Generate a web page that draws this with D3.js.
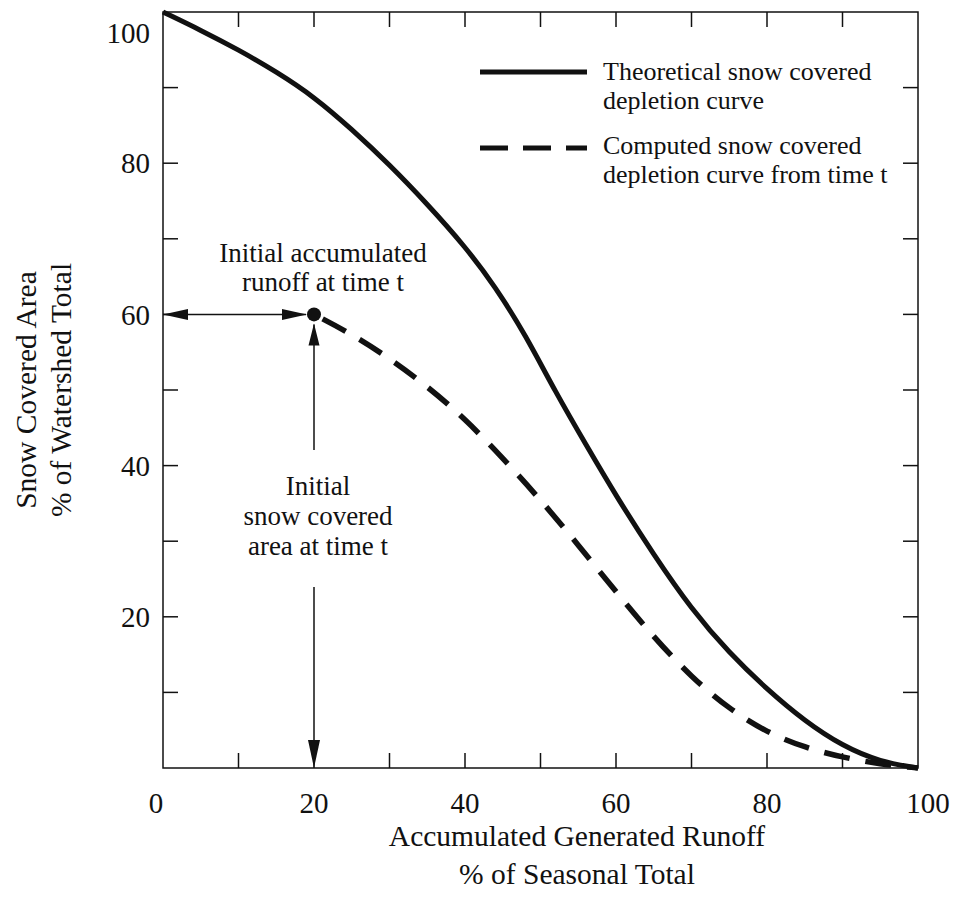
<!DOCTYPE html>
<html>
<head>
<meta charset="utf-8">
<script src="https://cdn.jsdelivr.net/npm/d3@7"></script>
<style>
  html, body { margin: 0; padding: 0; background: #fff; }
  svg { display: block; }
  text { font-family: "Liberation Serif", "Times New Roman", serif; fill: #111; }
</style>
</head>
<body>
<div id="chart"></div>
<script>
// ---- data ----
const theoreticalX = [0, 5, 10, 15, 20, 25, 30, 35, 40, 44, 48, 52, 56, 60, 65, 70, 75, 80, 85, 90, 95, 100];
const theoreticalY = [100, 97.6, 95, 92.1, 88.8, 84.5, 79.8, 74.6, 69, 63.7, 57.3, 49.7, 42.8, 36.0, 28.2, 21.0, 15.2, 10.4, 6.2, 2.9, 0.8, 0];
const computedX = [20, 25, 30, 35, 40, 45, 50, 55, 60, 65, 70, 75, 80, 85, 90, 95, 100];
const computedY = [60, 57.4, 54.2, 50.5, 46.2, 41.0, 35.5, 29.5, 23.3, 17.3, 12.0, 7.8, 4.7, 2.7, 1.4, 0.5, 0];
const xTickLabels = [0, 20, 40, 60, 80, 100];
const yTickLabels = [20, 40, 60, 80, 100];
const minorTicks = [10, 20, 30, 40, 50, 60, 70, 80, 90];
const initialRunoff = 20;
const initialArea = 60;
const legendLabels = [
  ["Theoretical snow covered", "depletion curve"],
  ["Computed snow covered", "depletion curve from time t"]
];
const xTitle = ["Accumulated Generated Runoff", "% of Seasonal Total"];
const yTitle = ["Snow Covered Area", "% of Watershed Total"];
const runoffNote = ["Initial accumulated", "runoff at time t"];
const areaNote = ["Initial", "snow covered", "area at time t"];

// ---- layout ----
const W = 955, H = 907;
const pL = 163, pR = 918, pT = 12, pB = 768;
const x = d3.scaleLinear().domain([0, 100]).range([pL, pR]);
const y = d3.scaleLinear().domain([0, 100]).range([pB, pT]);
const ink = "#111";

const svg = d3.select("#chart").append("svg").attr("width", W).attr("height", H);

// frame
svg.append("rect").attr("x", pL).attr("y", pT)
  .attr("width", pR - pL).attr("height", pB - pT)
  .attr("fill", "none").attr("stroke", ink).attr("stroke-width", 1.5);

// inward ticks on all four sides
const tl = 15;
const ticks = svg.append("g").attr("stroke", ink).attr("stroke-width", 1.5);
minorTicks.forEach(v => {
  ticks.append("line").attr("x1", x(v)).attr("x2", x(v)).attr("y1", pB).attr("y2", pB - tl);
  ticks.append("line").attr("x1", x(v)).attr("x2", x(v)).attr("y1", pT).attr("y2", pT + tl);
  ticks.append("line").attr("x1", pL).attr("x2", pL + tl).attr("y1", y(v)).attr("y2", y(v));
  ticks.append("line").attr("x1", pR).attr("x2", pR - tl).attr("y1", y(v)).attr("y2", y(v));
});

// tick labels
const fsTick = 29;
svg.append("g").selectAll("text").data(xTickLabels).join("text")
  .attr("x", d => x(d) + (d === 0 ? -7 : d === 100 ? 10 : 0))
  .attr("y", 813)
  .attr("text-anchor", "middle")
  .attr("font-size", fsTick)
  .text(d => d);
svg.append("g").selectAll("text").data(yTickLabels).join("text")
  .attr("x", pL - 13)
  .attr("y", d => y(d) + (d === 100 ? 21 : 0))
  .attr("dy", "0.35em")
  .attr("text-anchor", "end")
  .attr("font-size", fsTick)
  .text(d => d);

// axis titles
const fsTitle = 29.5;
svg.append("g").selectAll("text").data(xTitle).join("text")
  .attr("x", 577).attr("y", (d, i) => 846 + i * 38)
  .attr("text-anchor", "middle").attr("font-size", fsTitle).text(d => d);
svg.append("g").attr("transform", `translate(0,${(pT + pB) / 2}) rotate(-90)`)
  .selectAll("text").data(yTitle).join("text")
  .attr("x", 0).attr("y", (d, i) => 36 + i * 35)
  .attr("text-anchor", "middle").attr("font-size", fsTitle).text(d => d);

// curves
const line = d3.line().x(d => x(d[0])).y(d => y(d[1])).curve(d3.curveBasis);
const theo = theoreticalX.map((v, i) => [v, theoreticalY[i]]);
const comp = computedX.map((v, i) => [v, computedY[i]]);
svg.append("path").datum(theo).attr("d", line)
  .attr("fill", "none").attr("stroke", ink).attr("stroke-width", 5);
svg.append("path").datum(comp).attr("d", line)
  .attr("fill", "none").attr("stroke", ink).attr("stroke-width", 5.5)
  .attr("stroke-dasharray", "26,16").attr("stroke-dashoffset", -10);

// initial point
const px = x(initialRunoff), py = y(initialArea);
svg.append("circle").attr("cx", px).attr("cy", py).attr("r", 7).attr("fill", ink);

// arrows
function arrowHead(tipX, tipY, dx, dy, len, half) {
  const bx = tipX - dx * len, by = tipY - dy * len;
  const nx = -dy, ny = dx;
  return `M${tipX},${tipY}L${bx + nx * half},${by + ny * half}L${bx - nx * half},${by - ny * half}Z`;
}
const ar = svg.append("g");
ar.append("line").attr("x1", x(0)).attr("x2", px - 8).attr("y1", py).attr("y2", py)
  .attr("stroke", ink).attr("stroke-width", 1.5);
ar.append("path").attr("d", arrowHead(x(0), py, -1, 0, 25, 5.5)).attr("fill", ink);
ar.append("path").attr("d", arrowHead(px - 7, py, 1, 0, 25, 5.5)).attr("fill", ink);
ar.append("line").attr("x1", px).attr("x2", px).attr("y1", 450).attr("y2", py + 10)
  .attr("stroke", ink).attr("stroke-width", 1.5);
ar.append("path").attr("d", arrowHead(px, py + 9, 0, -1, 22, 5.5)).attr("fill", ink);
ar.append("line").attr("x1", px).attr("x2", px).attr("y1", 587).attr("y2", y(0) - 4)
  .attr("stroke", ink).attr("stroke-width", 1.5);
ar.append("path").attr("d", arrowHead(px, y(0), 0, 1, 28, 6)).attr("fill", ink);

// annotations
const fsNote = 27;
svg.append("g").selectAll("text").data(runoffNote).join("text")
  .attr("x", 323).attr("y", (d, i) => 262 + i * 29)
  .attr("text-anchor", "middle").attr("font-size", fsNote).text(d => d);
svg.append("g").selectAll("text").data(areaNote).join("text")
  .attr("x", 318).attr("y", (d, i) => 495 + i * 30)
  .attr("text-anchor", "middle").attr("font-size", fsNote).text(d => d);

// legend
const lg = svg.append("g");
lg.append("line").attr("x1", 480).attr("x2", 587).attr("y1", 72).attr("y2", 72)
  .attr("stroke", ink).attr("stroke-width", 5);
lg.append("line").attr("x1", 480).attr("x2", 587).attr("y1", 148).attr("y2", 148)
  .attr("stroke", ink).attr("stroke-width", 5).attr("stroke-dasharray", "28,15");
const fsLeg = 26;
legendLabels.forEach((lines, k) => {
  lg.append("g").selectAll("text").data(lines).join("text")
    .attr("x", 603).attr("y", (d, i) => (k === 0 ? 80 : 154) + i * 29)
    .attr("font-size", fsLeg).text(d => d);
});
</script>
</body>
</html>
